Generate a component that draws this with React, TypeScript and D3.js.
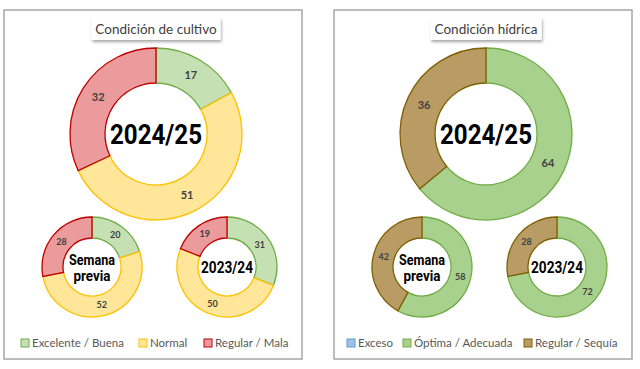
import React from 'react';
import * as d3 from 'd3';

// categories
const cultivoCats = ['Excelente / Buena', 'Normal', 'Regular / Mala'];
const hidricaCats = ['Exceso', 'Óptima / Adecuada', 'Regular / Sequía'];

// values (%)
const cultivoActual = [17, 51, 32];
const cultivoPrevia = [20, 52, 28];
const cultivoAnterior = [31, 50, 19];
const hidricaActual = [0, 64, 36];
const hidricaPrevia = [0, 58, 42];
const hidricaAnterior = [0, 72, 28];

const cultivoFill = ['#c5e0b3', '#ffe699', '#eb9b9b'];
const cultivoStroke = ['#70ad47', '#ffc000', '#c00000'];
const hidricaFill = ['#9dc3e6', '#a9d18e', '#b89c64'];
const hidricaStroke = ['#5b9bd5', '#70ad47', '#7f6000'];

const W = 640;
const H = 369;

const font = 'Lato, "Open Sans", sans-serif';
const numFont = 'Roboto, "DejaVu Sans", sans-serif';

interface DonutProps {
    cx: number;
    cy: number;
    outer: number;
    inner: number;
    values: number[];
    fills: string[];
    strokes: string[];
    labelSize: number;
    children?: React.ReactNode;
}

function Donut({ cx, cy, outer, inner, values, fills, strokes, labelSize, children }: DonutProps) {
    const pie = d3.pie<number>().sort(null).value(d => d)(values);
    const arc = d3.arc<d3.PieArcDatum<number>>().innerRadius(inner).outerRadius(outer);
    return (
        <g transform={`translate(${cx},${cy})`}>
            {pie.map((p, i) => p.value > 0 && (
                <path key={i} d={arc(p) || ''} fill={fills[i]} stroke={strokes[i]} strokeWidth={1.3} />
            ))}
            {pie.map((p, i) => {
                if (p.value <= 0) return null;
                const [x, y] = arc.centroid(p);
                return (
                    <text key={'l' + i} x={x} y={y} dy="0.35em" textAnchor="middle"
                        fontFamily={font} fontWeight={700} fontSize={labelSize} fill="#404040">
                        {p.value}
                    </text>
                );
            })}
            {children}
        </g>
    );
}

function Panel({ x, title, titleW, cats, fills, strokes, actual, previa, anterior, legendX }: any) {
    const c = x + 152;
    return (
        <g>
            <rect x={x} y={10} width={298} height={349} fill="#fff" stroke="#a6a6a6" strokeWidth={1.5} />
            <rect x={c - titleW / 2} y={18} width={titleW} height={22} fill="#fff" filter="url(#shadow)" />
            <text x={c} y={29} dy="0.35em" textAnchor="middle" fontFamily={font} fontSize={13.5} fill="#404040">{title}</text>
            <Donut cx={c} cy={134} outer={86} inner={51} values={actual} fills={fills} strokes={strokes} labelSize={11}>
                <text x={0} y={0} dy="0.36em" textAnchor="middle" fontFamily={numFont} fontWeight={700} fontSize={28}
                    textLength={92} lengthAdjust="spacingAndGlyphs" fill="#000" stroke="#fff" strokeWidth={0.5} paintOrder="stroke">2024/25</text>
            </Donut>
            <Donut cx={c - 64} cy={267} outer={50} inner={29} values={previa} fills={fills} strokes={strokes} labelSize={9}>
                <text textAnchor="middle" fontFamily={numFont} fontWeight={700} fontSize={14} fill="#000">
                    <tspan x={0} y={-2} textLength={46} lengthAdjust="spacingAndGlyphs">Semana</tspan>
                    <tspan x={0} y={14} textLength={37} lengthAdjust="spacingAndGlyphs">previa</tspan>
                </text>
            </Donut>
            <Donut cx={c + 71} cy={267} outer={50} inner={29} values={anterior} fills={fills} strokes={strokes} labelSize={9}>
                <text x={0} y={0} dy="0.36em" textAnchor="middle" fontFamily={numFont} fontWeight={700} fontSize={16}
                    textLength={52} lengthAdjust="spacingAndGlyphs" fill="#000">2023/24</text>
            </Donut>
            {cats.map((name: string, i: number) => (
                <g key={name} transform={`translate(${legendX[i]},343)`}>
                    <rect x={0} y={-4} width={8} height={8} fill={fills[i]} stroke={strokes[i]} strokeWidth={1} />
                    <text x={11} y={0} dy="0.35em" fontFamily={font} fontSize={11.5} fill="#595959">{name}</text>
                </g>
            ))}
        </g>
    );
}

export default function App() {
    return (
        <svg width={W} height={H} viewBox={`0 0 ${W} ${H}`}
            style={{ position: 'absolute', left: 0, top: 0, background: '#fff' }}>
            <defs>
                <filter id="shadow" x="-10%" y="-30%" width="130%" height="180%">
                    <feDropShadow dx={1} dy={2} stdDeviation={1.5} floodColor="#000" floodOpacity={0.35} />
                </filter>
            </defs>
            <Panel x={4} title="Condición de cultivo" titleW={129} cats={cultivoCats}
                fills={cultivoFill} strokes={cultivoStroke}
                actual={cultivoActual} previa={cultivoPrevia} anterior={cultivoAnterior}
                legendX={[21, 139, 204]} />
            <Panel x={334} title="Condición hídrica" titleW={111} cats={hidricaCats}
                fills={hidricaFill} strokes={hidricaStroke}
                actual={hidricaActual} previa={hidricaPrevia} anterior={hidricaAnterior}
                legendX={[347, 403, 524]} />
        </svg>
    );
}
